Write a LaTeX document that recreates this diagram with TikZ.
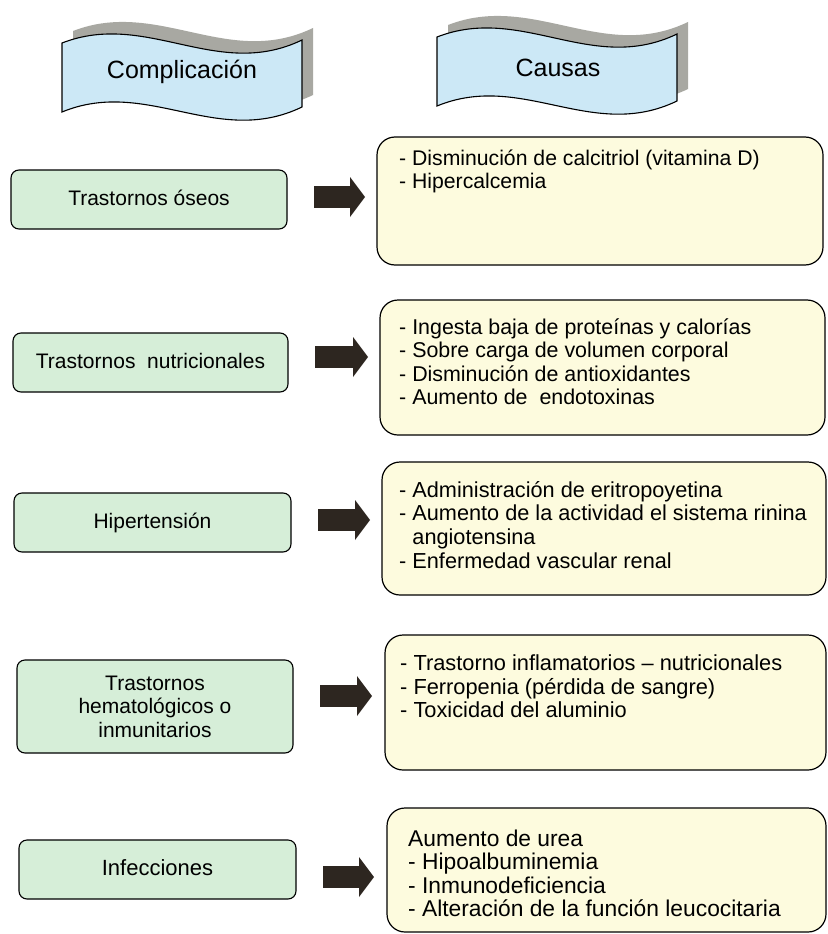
\documentclass[tikz,border=0pt]{standalone}
\usepackage{fontspec}
\setmainfont{Liberation Sans}
\usetikzlibrary{arrows.meta}
\definecolor{bannerblue}{RGB}{204,232,246}
\definecolor{bannershadow}{RGB}{168,168,162}
\definecolor{greenbox}{RGB}{214,238,216}
\definecolor{creambox}{RGB}{253,251,222}
\definecolor{arrowc}{RGB}{45,38,32}
\begin{document}
\begin{tikzpicture}[x=1pt,y=-1pt,
  pics/banner/.style={code={
    \fill[bannershadow] (11,-12) .. controls (96,-45) and (166,26) .. (251,-15) -- (251,52) .. controls (166,93) and (96,22) .. (11,57) -- cycle;
    \filldraw[fill=bannerblue,draw=black,line width=1.1pt] (0,0) .. controls (85,-33) and (155,38) .. (240,-3) -- (240,64) .. controls (155,105) and (85,34) .. (0,69) -- cycle;
  }},
  bannertext/.style={font=\fontsize{25}{28}\selectfont, inner sep=0pt},
  gbox/.style={draw=black, line width=1.1pt, fill=greenbox, rounded corners=8pt,
    font=\fontsize{21}{23.5}\selectfont, align=center, inner sep=0pt},
  cbox/.style={draw=black, line width=1.2pt, fill=creambox, rounded corners=18pt, inner sep=0pt},
  ctext/.style={anchor=north west, align=left, inner sep=0pt, font=\fontsize{21.4}{23.5}\selectfont},
  bigarrow/.style={arrowc, line width=22pt, -{Triangle[width=40pt,length=15pt,line width=0pt]}}
]
\fill[white] (0,0) rectangle (827,934);
\useasboundingbox (0,0) rectangle (827,934);

% banners
\pic at (62,43) {banner};
\pic at (437,37) {banner};
\node[bannertext] (hcomp) at (182,72) {Complicación};
\node[bannertext] (hcaus) at (558,68) {Causas};

% left boxes
\node[gbox, minimum width=276pt, minimum height=59pt] (g1) at (149,199.5) {Trastornos óseos\rule[-3pt]{0pt}{1pt}};
\node[gbox, minimum width=275pt, minimum height=59pt] (g2) at (150.5,362.5) {Trastornos~ nutricionales\rule[-3pt]{0pt}{1pt}};
\node[gbox, minimum width=277pt, minimum height=59pt] (g3) at (152.5,522.5) {Hipertensión};
\node[gbox, minimum width=276pt, minimum height=93pt] (g4) at (155,706.5) {Trastornos\\hematológicos o\\inmunitarios};
\node[gbox, minimum width=277pt, minimum height=59pt, font=\fontsize{22}{24}\selectfont] (g5) at (157.5,869.5) {Infecciones\rule[-3pt]{0pt}{1pt}};

% right boxes
\node[cbox, minimum width=446pt, minimum height=128pt] (c1) at (600,201) {};
\node[cbox, minimum width=445pt, minimum height=135pt] (c2) at (602.5,367.5) {};
\node[cbox, minimum width=444pt, minimum height=133pt] (c3) at (604,528.5) {};
\node[cbox, minimum width=441pt, minimum height=135pt] (c4) at (605.5,702.5) {};
\node[cbox, minimum width=439pt, minimum height=124pt] (c5) at (606.5,870) {};

\node[ctext, font=\fontsize{21.2}{23.5}\selectfont] (t1) at (399,145) {\rule{0pt}{20pt}- Disminución de calcitriol (vitamina D)\\- Hipercalcemia};
\node[ctext] (t2) at (399,314) {\rule{0pt}{20pt}- Ingesta baja de proteínas y calorías\\- Sobre carga de volumen corporal\\- Disminución de antioxidantes\\- Aumento de~ endotoxinas};
\node[ctext, font=\fontsize{21.7}{23.6}\selectfont] (t3) at (399,477) {\rule{0pt}{20pt}- Administración de eritropoyetina\\- Aumento de la actividad el sistema rinina\\\hphantom{- }angiotensina\\- Enfermedad vascular renal};
\node[ctext, font=\fontsize{21.8}{23.8}\selectfont] (t4) at (400,650) {\rule{0pt}{20pt}- Trastorno inflamatorios – nutricionales\\- Ferropenia (pérdida de sangre)\\- Toxicidad del aluminio};
\node[ctext, font=\fontsize{22.8}{23.5}\selectfont] (t5) at (408,826) {\rule{0pt}{20pt}Aumento de urea\\- Hipoalbuminemia\\- Inmunodeficiencia\\- Alteración de la función leucocitaria};

% arrows
\coordinate (a1s) at (314,197); \coordinate (a1e) at (365,197);
\coordinate (a2s) at (315,357); \coordinate (a2e) at (368,357);
\coordinate (a3s) at (318,520); \coordinate (a3e) at (370,520);
\coordinate (a4s) at (320,696); \coordinate (a4e) at (372,696);
\coordinate (a5s) at (323,877); \coordinate (a5e) at (374,877);
\draw[bigarrow] (a1s) -- (a1e);
\draw[bigarrow] (a2s) -- (a2e);
\draw[bigarrow] (a3s) -- (a3e);
\draw[bigarrow] (a4s) -- (a4e);
\draw[bigarrow] (a5s) -- (a5e);
\end{tikzpicture}
\end{document}
